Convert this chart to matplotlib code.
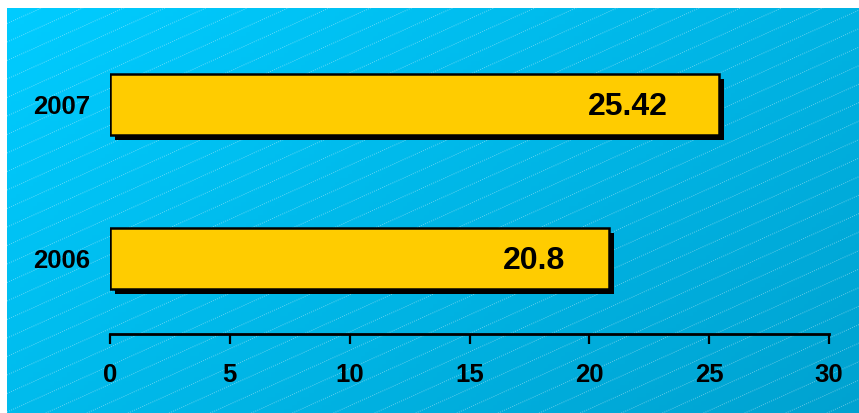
import numpy as np
import matplotlib
matplotlib.use("Agg")
import matplotlib.pyplot as plt
import matplotlib.patheffects as pe

years = ["2006", "2007"]
values = [20.8, 25.42]
value_labels = ["20.8", "25.42"]
x_ticks = [0, 5, 10, 15, 20, 25, 30]

W, H = 859, 413
plt.rcParams["font.family"] = ["Liberation Sans", "DejaVu Sans"]
plt.rcParams["font.weight"] = "bold"

fig = plt.figure(figsize=(W / 100, H / 100), dpi=100)
fig.patch.set_facecolor("white")

# background panel: diagonal gradient with dotted stripes
bg = fig.add_axes([7 / W, 0, 1 - 7 / W, 1 - 8 / H])
bg.set_xlim(0, W - 7)
bg.set_ylim(H - 8, 0)
bg.axis("off")
gx, gy = np.meshgrid(np.linspace(0, 1, 200), np.linspace(0, 1, 100))
t = (gx * 0.6 + gy * 0.4)
c0 = np.array([0, 204, 255]) / 255
c1 = np.array([0, 162, 208]) / 255
img = c0[None, None, :] * (1 - t[..., None]) + c1[None, None, :] * t[..., None]
bg.imshow(img, extent=[0, W - 7, H - 8, 0], aspect="auto", zorder=0)
slope = 0.45
for y0 in np.arange(-40, H + slope * W + 40, 18.5):
    bg.plot([0, W], [y0, y0 - slope * W], color="white", lw=0.7,
            ls=(0, (1, 1.3)), alpha=0.4, zorder=1)

ax = fig.add_axes([110 / W, 1 - 334 / H, 719 / W, (334 - 27.5) / H])
ax.patch.set_alpha(0)
ypos = np.arange(len(years))
ax.barh(ypos, values, height=0.4, color="#FFCC00", edgecolor="black",
        linewidth=1.8, zorder=3,
        path_effects=[pe.SimplePatchShadow(offset=(3.6, -3.6), shadow_rgbFace="black", alpha=1),
                      pe.Normal()])
for y, v, lab in zip(ypos, values, value_labels):
    ax.text(v * 0.85, y - 0.015, lab, ha="center", va="center",
            fontsize=23, fontweight="bold", color="black", zorder=4)

ax.set_xlim(0, 30)
ax.set_ylim(-0.49, 1.5)
ax.set_xticks(x_ticks)
ax.set_yticks(ypos)
ax.set_yticklabels(years)
for s in ["top", "right", "left"]:
    ax.spines[s].set_visible(False)
ax.spines["bottom"].set_linewidth(2)
ax.tick_params(axis="x", direction="out", length=7, width=1.6, pad=14,
               labelsize=18.5)
ax.tick_params(axis="y", length=0, pad=14, labelsize=18.5)
for lbl in ax.get_xticklabels() + ax.get_yticklabels():
    lbl.set_fontweight("bold")

fig.savefig("out.png", dpi=100)
